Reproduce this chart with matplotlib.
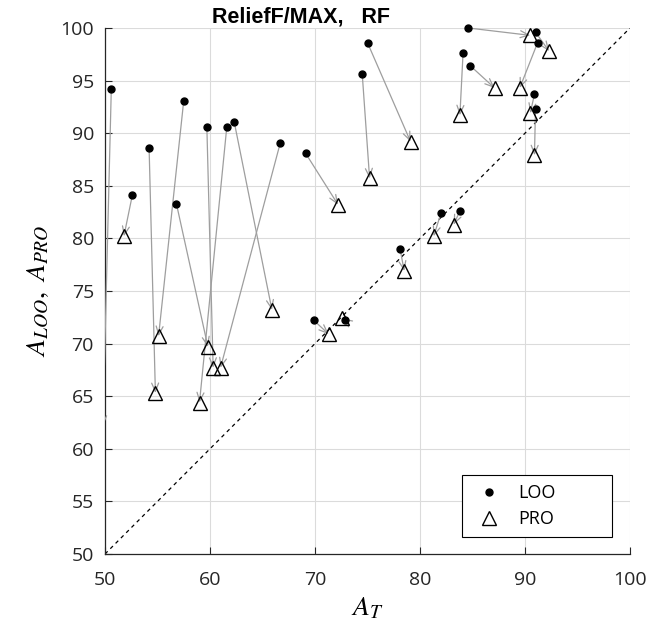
import matplotlib
matplotlib.use("Agg")
import matplotlib.pyplot as plt
from matplotlib.patches import FancyArrowPatch
from matplotlib.lines import Line2D

# LOO -> PRO pairs
loo_x = [50.6, 52.6, 54.2, 57.5, 56.8, 59.7, 61.6, 62.3, 66.7, 69.1, 74.5, 75.0,
         84.1, 84.8, 84.6, 91.0, 91.2, 90.9, 91.0, 82.0, 83.8, 78.1, 69.9, 72.9]
loo_y = [94.2, 84.1, 88.6, 93.1, 83.3, 90.6, 90.6, 91.1, 89.1, 88.1, 95.6, 98.6,
         97.6, 96.4, 100.0, 99.6, 98.6, 93.7, 92.3, 82.4, 82.6, 79.0, 72.2, 72.2]
pro_x = [49.8, 51.8, 54.8, 55.1, 59.8, 60.3, 59.0, 65.9, 61.0, 72.2, 75.2, 79.1,
         83.8, 87.1, 90.5, 92.3, 89.5, 90.5, 90.9, 81.3, 83.2, 78.5, 71.3, 72.6]
pro_y = [62.2, 80.2, 65.3, 70.7, 69.7, 67.7, 64.4, 73.2, 67.7, 83.2, 85.7, 89.2,
         91.7, 94.3, 99.3, 97.8, 94.3, 91.9, 87.9, 80.2, 81.3, 76.9, 70.9, 72.4]

ticks = [50, 60, 70, 80, 90, 100]
yticks = [50, 55, 60, 65, 70, 75, 80, 85, 90, 95, 100]

plt.rcParams['font.family'] = ['Open Sans', 'DejaVu Sans']
plt.rcParams['mathtext.fontset'] = 'stix'

fig = plt.figure(figsize=(6.49, 6.30), dpi=100)
ax = fig.add_axes([105 / 649, 76 / 630, 525 / 649, 526 / 630])

ax.set_xlim(50, 100)
ax.set_ylim(50, 100)

# diagonal reference
ax.plot([50, 100], [50, 100], color='black', linestyle=(0, (3, 3)), linewidth=0.9, zorder=2)

# arrows LOO -> PRO
for x0, y0, x1, y1 in zip(loo_x, loo_y, pro_x, pro_y):
    arr = FancyArrowPatch((x0, y0), (x1, y1),
                          arrowstyle='->,head_length=0.6,head_width=0.25',
                          mutation_scale=10, color=(0.62, 0.62, 0.62),
                          linewidth=0.9, shrinkA=0, shrinkB=0, zorder=3)
    ax.add_patch(arr)

ax.plot(loo_x, loo_y, linestyle='none', marker='o', markersize=5,
        color='black', clip_on=False, zorder=5)
vis = [(x, y) for x, y in zip(pro_x, pro_y) if x >= 50]
ax.plot([v[0] for v in vis], [v[1] for v in vis], linestyle='none', marker='^',
        markersize=10.5, markerfacecolor='none', markeredgecolor='black',
        markeredgewidth=1.0, zorder=4)

ax.set_xticks(ticks)
ax.set_yticks(yticks)
ax.grid(True, color=(0.86, 0.86, 0.86), linewidth=0.8)
ax.set_axisbelow(True)
ax.tick_params(direction='in', length=5, width=0.8, labelsize=14,
               colors=(0.15, 0.15, 0.15), top=False, right=False)
ax.tick_params(axis='x', pad=12)
ax.tick_params(axis='y', pad=8)
for s in ['top', 'right']:
    ax.spines[s].set_visible(False)
for s in ['left', 'bottom']:
    ax.spines[s].set_color((0.15, 0.15, 0.15))
    ax.spines[s].set_linewidth(0.9)

ax.set_xlabel(r'$A_T$', fontsize=20, labelpad=4)
ax.set_ylabel(r'$A_{LOO},\ A_{PRO}$', fontsize=20, labelpad=6)

fig.text(212 / 649, 1 - 22 / 630, 'ReliefF/MAX,   RF', fontsize=15.5,
         fontweight='bold', ha='left', va='baseline',
         family=['Liberation Sans Narrow', 'Liberation Sans', 'DejaVu Sans'])

handles = [Line2D([], [], linestyle='none', marker='o', markersize=5, color='black'),
           Line2D([], [], linestyle='none', marker='^', markersize=10.5,
                  markerfacecolor='none', markeredgecolor='black')]
leg = ax.legend(handles, ['LOO', 'PRO'], loc='lower left', mode='expand',
                bbox_to_anchor=(0.68, 0.032, 0.286, 0.12), borderaxespad=0,
                fontsize=13, fancybox=False, framealpha=1, edgecolor='black',
                handlelength=2.0, handletextpad=0.6, borderpad=0.5,
                labelspacing=0.45)
leg.get_frame().set_linewidth(0.8)

fig.savefig('out.png', dpi=100)
